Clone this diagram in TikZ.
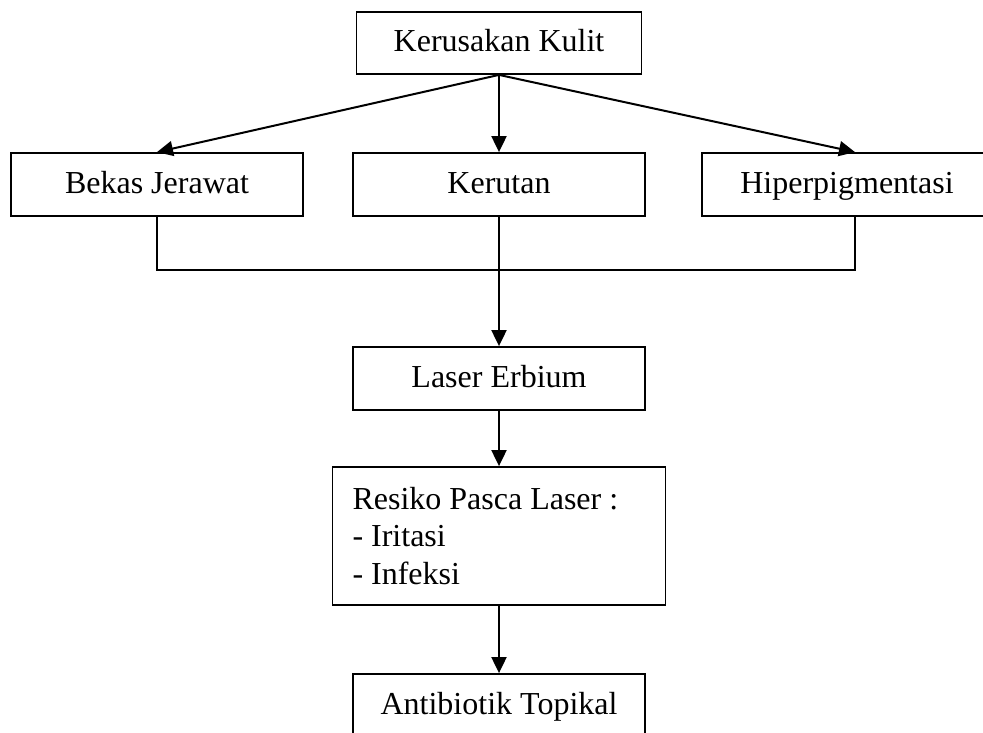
\documentclass[tikz,border=0pt]{standalone}
\usepackage{fontspec}
\setmainfont{Liberation Serif}
\usetikzlibrary{arrows.meta}

\begin{document}
\begin{tikzpicture}[x=1pt, y=-1pt,
    kotak/.style={draw, line width=1.8pt, minimum height=63pt, inner sep=0pt, font=\fontsize{32}{37.5}\selectfont},
    satu/.style={kotak, text height=24pt, text depth=6pt},
    panah/.style={line width=2pt, -{Triangle[width=15pt,length=16pt]}},
    garis/.style={line width=2pt}]
\useasboundingbox (0,0) rectangle (983,733);

\node[satu, minimum width=285pt, minimum height=62pt] (kulit) at (499,43) {Kerusakan Kulit};

\node[satu, minimum width=292pt] (bekas) at (157,184.5) {Bekas Jerawat};
\node[satu, minimum width=292pt] (kerutan) at (499,184.5) {Kerutan};
\node[satu, minimum width=290pt] (hiper) at (847,184.5) {Hiperpigmentasi};

\node[satu, minimum width=292pt] (laser) at (499,378.5) {Laser Erbium};
\node[kotak, minimum width=333pt, minimum height=138pt, text width=293pt, inner xsep=20pt, align=left] (resiko) at (499,536)
  {\spaceskip=0pt\xspaceskip=0pt Resiko Pasca Laser :\\- Iritasi\\- Infeksi};
\node[satu, minimum width=292pt] (antibiotik) at (499,705.5) {Antibiotik Topikal};

\draw[panah] (kulit.south) -- ([xshift=8pt]hiper.north);
\draw[panah] (kulit.south) -- (bekas.north);
\draw[panah] (kulit.south) -- (kerutan.north);

% gabungan ke laser
\draw[garis] (bekas.south) -- ++(0,53) -| ([xshift=8pt]hiper.south);
\draw[panah] (kerutan.south) -- (laser.north);

\draw[panah] (laser.south) -- (resiko.north);
\draw[panah] (resiko.south) -- (antibiotik.north);
\end{tikzpicture}
\end{document}
